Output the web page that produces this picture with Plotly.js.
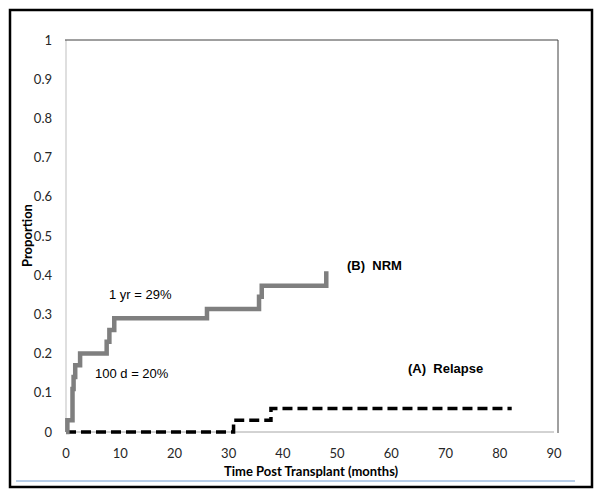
<!DOCTYPE html>
<html>
<head>
<meta charset="utf-8">
<script src="https://cdn.plot.ly/plotly-3.0.1.min.js"></script>
<style>html,body{margin:0;padding:0;background:#fff;}#chart{width:600px;height:496px;}</style>
</head>
<body>
<div id="chart"></div>
<script>
// NRM cumulative incidence (step curve)
const nrmMonths = [0, 0.25, 1.2, 1.4, 1.7, 2.6, 7.5, 8.0, 8.9, 26.0, 35.6, 36.1, 48.0];
const nrmProp   = [0, 0.03, 0.11, 0.14, 0.17, 0.20, 0.23, 0.26, 0.29, 0.314, 0.345, 0.373, 0.41];
// Relapse cumulative incidence (step curve)
const relMonths = [0, 30.9, 37.8, 82.2];
const relProp   = [0, 0.03, 0.06, 0.06];

const xTicks = [0, 10, 20, 30, 40, 50, 60, 70, 80, 90];
const yTicks = [0, 0.1, 0.2, 0.3, 0.4, 0.5, 0.6, 0.7, 0.8, 0.9, 1];

const tickFont = {family: 'Lato, "Open Sans", sans-serif', size: 13, color: '#262626'};
const titleFont = {family: 'Lato, "Open Sans", sans-serif', size: 13, color: '#000', weight: 'bold'};
const annFont = {family: '"Liberation Sans", Arial, sans-serif', size: 13, color: '#000'};

const traces = [
  {x: relMonths, y: relProp, type: 'scatter', mode: 'lines',
   line: {shape: 'hv', color: '#000000', width: 3.5, dash: '10px,5px'}, hoverinfo: 'skip'},
  {x: nrmMonths, y: nrmProp, type: 'scatter', mode: 'lines',
   line: {shape: 'hv', color: '#7f7f7f', width: 4.5}, hoverinfo: 'skip'}
];

function px(p){ return (p - 62) / 492; }
function py(p){ return (436 - p) / 396; }

const layout = {
  width: 600, height: 496,
  margin: {l: 62, r: 46, t: 40, b: 60, pad: 0},
  paper_bgcolor: '#ffffff', plot_bgcolor: '#ffffff',
  showlegend: false,
  xaxis: {
    range: [-4 / (488 / 90), 90], tickvals: xTicks, ticktext: xTicks.map(String),
    showgrid: false, zeroline: false, showline: false, ticks: '',
    ticklabelstandoff: 8, tickfont: tickFont
  },
  yaxis: {
    range: [-4 / 392, 1], tickvals: yTicks, ticktext: yTicks.map(String),
    showgrid: false, zeroline: false, showline: false, ticks: '',
    ticklabelstandoff: 9, tickfont: tickFont
  },
  shapes: [
    // outer frame
    {type: 'rect', xref: 'paper', yref: 'paper', x0: px(10), x1: px(592), y0: py(487), y1: py(10),
     line: {color: '#000', width: 2.5}, layer: 'below'},
    // blue rule
    {type: 'line', xref: 'paper', yref: 'paper', x0: px(16), x1: px(575), y0: py(481), y1: py(481),
     line: {color: '#6f9bd1', width: 1}},
    // plot area border top & right
    {type: 'line', xref: 'paper', yref: 'paper', x0: px(65), x1: px(558), y0: py(40), y1: py(40),
     line: {color: '#404040', width: 1}},
    {type: 'line', xref: 'paper', yref: 'paper', x0: px(558), x1: px(558), y0: py(433), y1: py(40),
     line: {color: '#404040', width: 1}},
    // axes lines
    {type: 'line', xref: 'x', yref: 'y', x0: 0, x1: 0, y0: 0, y1: 1,
     line: {color: '#bfbfbf', width: 1}, layer: 'below'},
    {type: 'line', xref: 'x', yref: 'y', x0: 0, x1: 90, y0: 0, y1: 0,
     line: {color: '#a6a6a6', width: 1}, layer: 'below'}
  ],
  annotations: [
    {text: '<b>Time Post Transplant (months)</b>', xref: 'paper', yref: 'paper', x: px(311), y: py(471),
     xanchor: 'center', yanchor: 'middle', showarrow: false, font: titleFont},
    {text: '<b>Proportion</b>', xref: 'paper', yref: 'paper', x: px(27), y: py(236), textangle: -90,
     xanchor: 'center', yanchor: 'middle', showarrow: false, font: titleFont},
    {text: '1 yr = 29%', x: 13.7, y: 0.35, xref: 'x', yref: 'y', showarrow: false, font: annFont},
    {text: '100 d = 20%', x: 12.2, y: 0.15, xref: 'x', yref: 'y', showarrow: false, font: annFont},
    {text: '<b>(B)  NRM</b>', x: 51.5, y: 0.425, xref: 'x', yref: 'y', showarrow: false, xanchor: 'left', font: annFont},
    {text: '<b>(A)  Relapse</b>', x: 62.7, y: 0.163, xref: 'x', yref: 'y', showarrow: false, xanchor: 'left', font: annFont}
  ]
};

Plotly.newPlot('chart', traces, layout, {staticPlot: true, displayModeBar: false});
</script>
</body>
</html>
